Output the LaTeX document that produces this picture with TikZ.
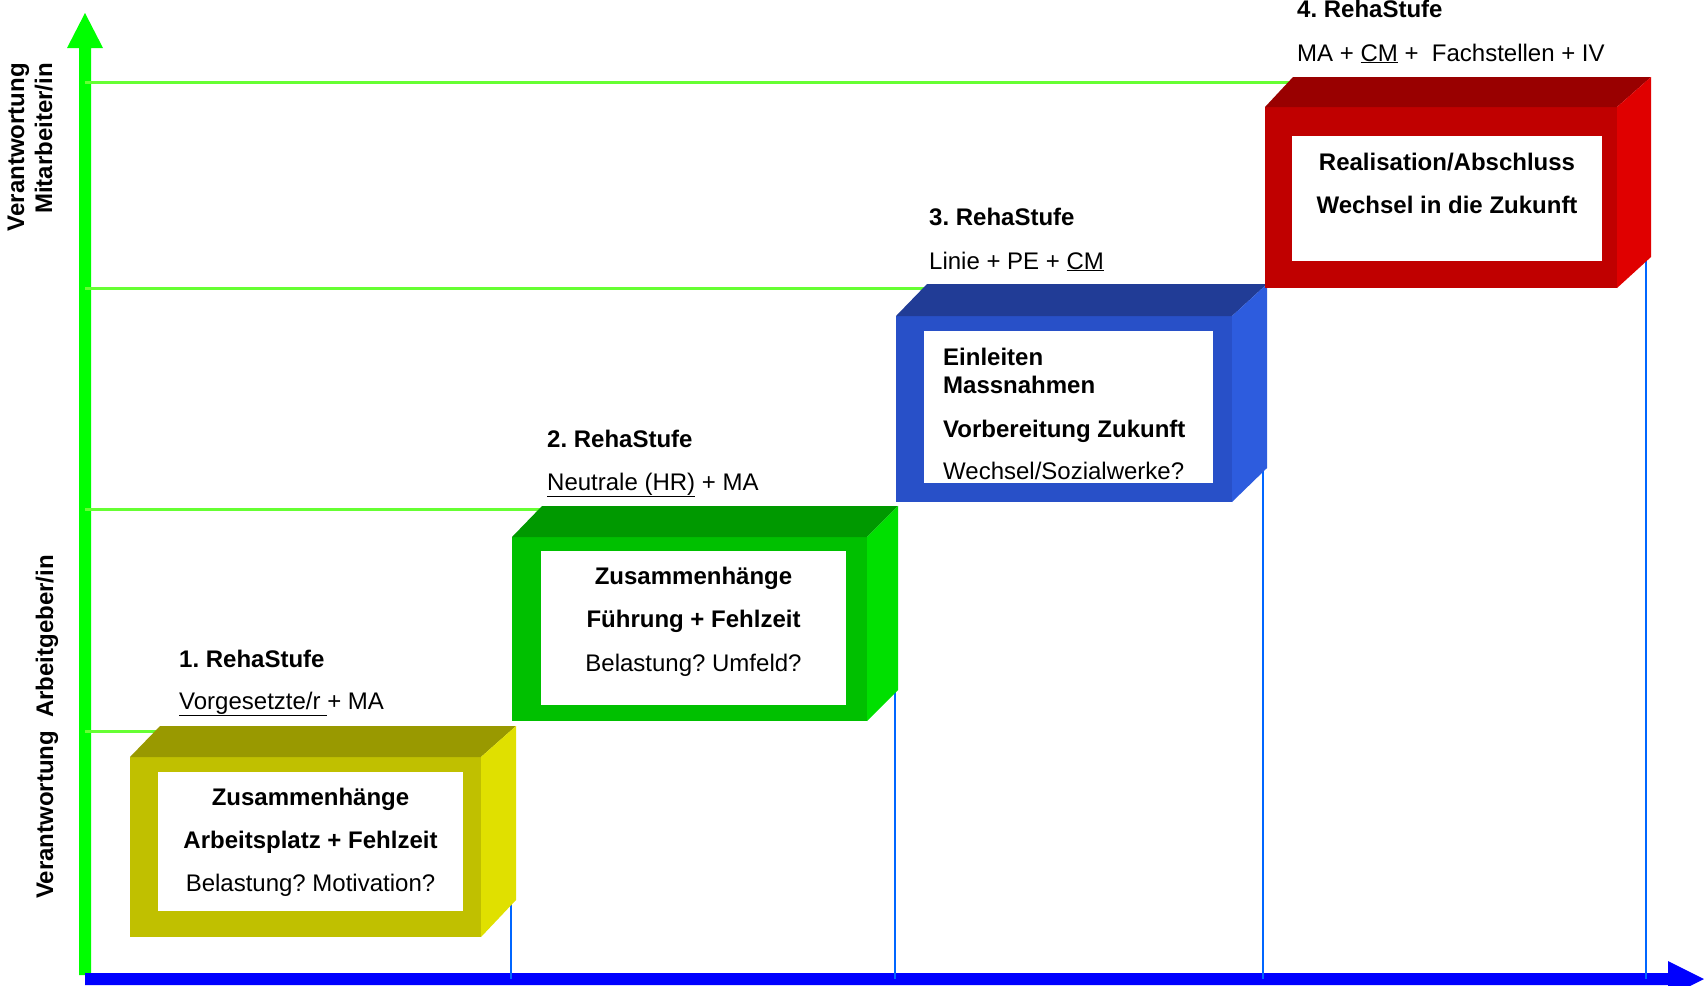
\documentclass[tikz,border=0pt]{standalone}
\usepackage{fontspec}
\setmainfont{Liberation Sans}
\definecolor{axgreen}{RGB}{0,255,0}
\definecolor{guidegreen}{RGB}{102,255,51}
\definecolor{axblue}{RGB}{0,0,255}
\definecolor{dropblue}{RGB}{0,102,255}
\definecolor{yfront}{RGB}{192,192,0}
\definecolor{ytop}{RGB}{153,153,0}
\definecolor{yside}{RGB}{224,224,0}
\definecolor{gfront}{RGB}{0,192,0}
\definecolor{gtop}{RGB}{0,153,0}
\definecolor{gside}{RGB}{0,224,0}
\definecolor{bfront}{RGB}{40,80,200}
\definecolor{btop}{RGB}{33,60,150}
\definecolor{bside}{RGB}{45,92,222}
\definecolor{rfront}{RGB}{192,0,0}
\definecolor{rtop}{RGB}{153,0,0}
\definecolor{rside}{RGB}{224,0,0}
\begin{document}
\frenchspacing
\begin{tikzpicture}[x=1pt,y=-1pt,
  txt/.style={inner sep=0pt, font=\fontsize{24}{28}\selectfont\frenchspacing},
  guide/.style={draw=guidegreen, line width=3pt},
  drop/.style={draw=dropblue, line width=2pt},
  inner/.style={fill=white}]
\useasboundingbox (0,0) rectangle (1704,985);
% axes
\fill[axgreen] (79,975) -- (79,48) -- (67,48) -- (85,13) -- (103,48) -- (91,48) -- (91,975) -- cycle;
\fill[axblue] (85,973) -- (1668,973) -- (1668,961) -- (1704,979) -- (1668,997) -- (1668,985) -- (85,985) -- cycle;
% guide lines
\coordinate (g1s) at (85,82);  \coordinate (g1e) at (1295,82);
\coordinate (g2s) at (85,288); \coordinate (g2e) at (925,288);
\coordinate (g3s) at (85,509); \coordinate (g3e) at (544,509);
\coordinate (g4s) at (85,731); \coordinate (g4e) at (160,731);
\draw[guide] (g1s) -- (g1e);
\draw[guide] (g2s) -- (g2e);
\draw[guide] (g3s) -- (g3e);
\draw[guide] (g4s) -- (g4e);
% drop lines
\coordinate (d1s) at (511,900); \coordinate (d1e) at (511,979);
\coordinate (d2s) at (895,690); \coordinate (d2e) at (895,979);
\coordinate (d3s) at (1263,468); \coordinate (d3e) at (1263,979);
\coordinate (d4s) at (1646,257); \coordinate (d4e) at (1646,979);
\draw[drop] (d1s) -- (d1e);
\draw[drop] (d2s) -- (d2e);
\draw[drop] (d3s) -- (d3e);
\draw[drop] (d4s) -- (d4e);
% box 1
\fill[yfront] (130,757) rectangle (481,937);
\fill[ytop] (130,757) -- (160,726) -- (516,726) -- (481,757) -- cycle;
\fill[yside] (481,757) -- (516,726) -- (516,900) -- (481,937) -- cycle;
\fill[inner] (158,772) rectangle (463,911);
% box 2
\fill[gfront] (512,537) rectangle (867,721);
\fill[gtop] (512,537) -- (542,506) -- (898,506) -- (867,537) -- cycle;
\fill[gside] (867,537) -- (898,506) -- (898,690) -- (867,721) -- cycle;
\fill[inner] (541,551) rectangle (846,705);
% box 3
\fill[bfront] (896,316) rectangle (1232,502);
\fill[btop] (896,316) -- (927,284) -- (1267,284) -- (1232,316) -- cycle;
\fill[bside] (1232,316) -- (1267,284) -- (1267,468) -- (1232,502) -- cycle;
\fill[inner] (924,331) rectangle (1213,483);
% box 4
\fill[rfront] (1265,107) rectangle (1617,288);
\fill[rtop] (1265,107) -- (1293,77) -- (1651,77) -- (1617,107) -- cycle;
\fill[rside] (1617,107) -- (1651,77) -- (1651,257) -- (1617,288) -- cycle;
\fill[inner] (1292,136) rectangle (1602,261);
% box texts
\node[txt, anchor=base] (b1a) at (310.5,805) {\bfseries Zusammenhänge};
\node[txt, anchor=base] (b1b) at (310.5,848) {\bfseries Arbeitsplatz + Fehlzeit};
\node[txt, anchor=base] (b1c) at (310.5,891) {Belastung? Motivation?};
\node[txt, anchor=base] (b2a) at (693.5,584) {\bfseries Zusammenhänge};
\node[txt, anchor=base] (b2b) at (693.5,627) {\bfseries Führung + Fehlzeit};
\node[txt, anchor=base] (b2c) at (693.5,671) {Belastung? Umfeld?};
\node[txt, anchor=base west] (b3a) at (943,365) {\bfseries Einleiten};
\node[txt, anchor=base west] (b3b) at (943,393) {\bfseries Massnahmen};
\node[txt, anchor=base west] (b3c) at (943,437) {\bfseries Vorbereitung Zukunft};
\node[txt, anchor=base west] (b3d) at (943,479) {Wechsel/Sozialwerke?};
\node[txt, anchor=base] (b4a) at (1447,170) {\bfseries Realisation/Abschluss};
\node[txt, anchor=base] (b4b) at (1447,213) {\bfseries Wechsel in die Zukunft};
% stage labels
\node[txt, anchor=base west] (s1a) at (179,667) {\bfseries 1. RehaStufe};
\node[txt, anchor=base west] (s1b) at (179,709) {\underline{Vorgesetzte/r\ }+ MA};
\node[txt, anchor=base west] (s2a) at (547,447) {\bfseries 2. RehaStufe};
\node[txt, anchor=base west] (s2b) at (547,490) {\underline{Neutrale (HR)} + MA};
\node[txt, anchor=base west] (s3a) at (929,225) {\bfseries 3. RehaStufe};
\node[txt, anchor=base west] (s3b) at (929,269) {Linie + PE + \underline{CM}};
\node[txt, anchor=base west] (s4a) at (1297,17) {\bfseries 4. RehaStufe};
\node[txt, anchor=base west] (s4b) at (1297,61) {MA + \underline{CM} +\ \ Fachstellen + IV};
% axis labels
\node[txt, rotate=90, align=right, anchor=east] (ax1) at (30,63) {\bfseries Verantwortung\\\bfseries Mitarbeiter/in};
\node[txt, rotate=90] (ax2) at (47,727) {\bfseries Verantwortung\hspace{13pt}Arbeitgeber/in};
\end{tikzpicture}
\end{document}
